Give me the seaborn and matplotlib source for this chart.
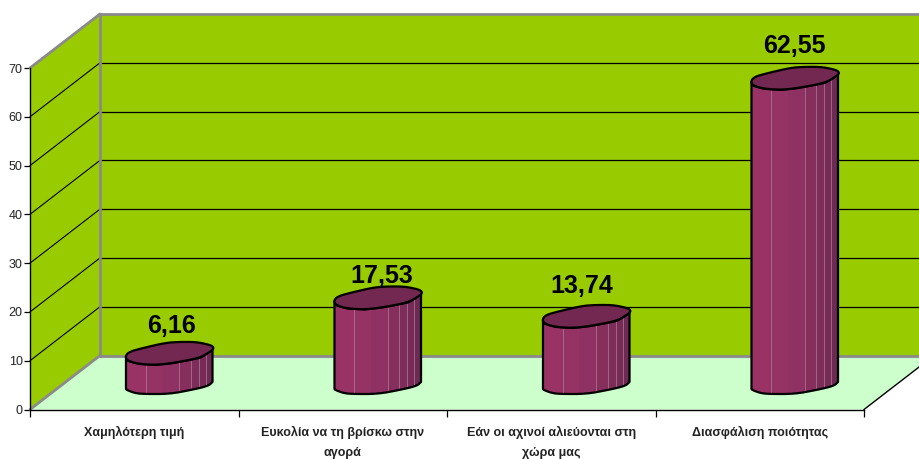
import numpy as np
import matplotlib
matplotlib.use("Agg")
import matplotlib.pyplot as plt
from matplotlib.patches import Polygon, Rectangle
from matplotlib.transforms import Affine2D, IdentityTransform
import seaborn as sns

CATEGORIES = ["Χαμηλότερη τιμή", "Ευκολία να τη βρίσκω στην\nαγορά",
              "Εάν οι αχινοί αλιεύονται στη\nχώρα μας", "Διασφάλιση ποιότητας"]
VALUES = [6.16, 17.53, 13.74, 62.55]
VALUE_LABELS = ["6,16", "17,53", "13,74", "62,55"]
Y_TICKS = [0, 10, 20, 30, 40, 50, 60, 70]

# pixel offsets of the value labels above each cylinder top
LABEL_SHIFT = [(2, 27), (4, 21), (-4, 30), (0, 32)]

WALL = "#99CC00"
FLOOR = "#CCFFCC"
EDGE = "#8A8A8A"
TOP = "#722850"
STRIP_FRACS = [0, .23, .42, .615, .75, .84, .92, 1]
STRIP_COLS = ["#993366", "#953365", "#8f3162", "#862f5d", "#7d2d59", "#752b55", "#6d2a52"]
THIN_FRACS = [.23, .615, .75, .84, .92]

# outline of a cylinder cap / base: x as fraction of half width, y in pixels
CAP_UPPER = [(-1.02, -4), (-.94, 1), (-.6, 5), (-.1, 10), (.2, 11), (.6, 11), (.85, 9), (1.0, 7)]
CAP_LOWER = [(1.03, 4), (.9, 0), (.7, -5), (.1, -10), (-.3, -12), (-.7, -11), (-.95, -8)]
BASE_LOWER = [(-1, -6), (-.98, -7), (-.8, -10), (-.6, -11), (0, -11), (.5, -7), (.9, -3), (1, 1)]


def chaikin(pts, n=2, closed=True):
    pts = np.asarray(pts, float)
    for _ in range(n):
        if closed:
            nxt = np.roll(pts, -1, axis=0)
            pts = np.column_stack([.75 * pts + .25 * nxt, .25 * pts + .75 * nxt]).reshape(-1, 2)
        else:
            a, b = pts[:-1], pts[1:]
            mid_pts = np.column_stack([.75 * a + .25 * b, .25 * a + .75 * b]).reshape(-1, 2)
            pts = np.vstack([pts[0], mid_pts, pts[-1]])
    return pts


sns.set_theme(style="white")
plt.rcParams["font.family"] = ["Liberation Sans", "DejaVu Sans"]

W, H = 919, 459
fig = plt.figure(figsize=(W / 100, H / 100), dpi=100, facecolor="white")
ax = fig.add_axes([30 / W, (H - 409.5) / H, 834 / W, 341.5 / H])
ax.patch.set_alpha(0)

sns.barplot(x=CATEGORIES, y=VALUES, color=STRIP_COLS[0], saturation=1,
            width=0.415, ax=ax, zorder=5)
ax.set_xlim(-0.5, 3.5)
ax.set_ylim(0, 70)

# 3D depth shift in pixels
DX, DY = 70, 54
back = ax.transData + Affine2D().translate(DX, DY)
mid = ax.transData + Affine2D().translate(DX / 2, DY / 2 - 0.5)


def disp(x, y, dx=0, dy=0):
    p = ax.transData.transform((x, y))
    return (p[0] + dx, p[1] + dy)


x0, x1 = -0.5, 3.5
ident = IdentityTransform()
side = Polygon([disp(x0, 0), disp(x0, 70), disp(x0, 70, DX, DY), disp(x0, 0, DX, DY)],
               closed=True, fc=WALL, ec="none", transform=ident, clip_on=False, zorder=0)
floor = Polygon([disp(x0, 0), disp(x1, 0), disp(x1, 0, DX, DY), disp(x0, 0, DX, DY)],
                closed=True, fc=FLOOR, ec="none", transform=ident, clip_on=False, zorder=0)
ax.add_patch(side)
ax.add_patch(floor)
ax.add_patch(Rectangle((x0, 0), 4, 70, fc=WALL, ec="none", transform=back, clip_on=False, zorder=0))

# grid lines
for v in Y_TICKS[1:-1]:
    ax.plot([x0, x1], [v, v], color="black", lw=0.9, transform=back, clip_on=False, zorder=1)
    a, b = disp(x0, v), disp(x0, v, DX, DY)
    ax.plot([a[0], b[0]], [a[1], b[1]], color="black", lw=0.8, transform=ident, clip_on=False, zorder=1)

# grey frame edges
ax.plot([x0, x1], [70, 70], color=EDGE, lw=2, transform=back, clip_on=False, zorder=2)
ax.plot([x0, x1], [0, 0], color=EDGE, lw=2, transform=back, clip_on=False, zorder=2)
ax.plot([x0, x0], [0, 70], color=EDGE, lw=2, transform=back, clip_on=False, zorder=2)
for v in (70, 0):
    a, b = disp(x0, v), disp(x0, v, DX, DY)
    ax.plot([a[0], b[0]], [a[1], b[1]], color=EDGE, lw=2, transform=ident, clip_on=False, zorder=2)
a, b = disp(x1, 0), disp(x1, 0, DX, DY)
ax.plot([a[0], b[0]], [a[1], b[1]], color="black", lw=1, transform=ident, clip_on=False, zorder=2)


def shape(profile, cx, cy, half):
    return [(cx + half * fx, cy + fy) for fx, fy in profile]


# cylinders
for i, (patch, v, txt, sh) in enumerate(zip(ax.patches[:4], VALUES, VALUE_LABELS, LABEL_SHIFT)):
    px, pw = patch.get_x(), patch.get_width()
    patch.set_transform(mid)
    (l, b0) = mid.transform((px, 0))
    (r, t0) = mid.transform((px + pw, v))
    cx, half = (l + r) / 2, (r - l) / 2
    cap = chaikin(shape(CAP_UPPER + CAP_LOWER, cx, t0, half), 2)
    base = chaikin(shape(BASE_LOWER, cx, b0, half), 2, closed=False)
    # body silhouette: base from left to right, then up and back across the cap
    body_pts = np.vstack([base, shape([(1, 4)] + CAP_LOWER[1:] + [(-1, -4)], cx, t0, half)])
    body = Polygon(body_pts, closed=True, fc="none", ec="black", lw=1.6,
                   transform=ident, clip_on=False, zorder=8, joinstyle="round")
    clip = Polygon(body_pts, closed=True, transform=ident)
    patch.set_clip_path(clip)
    for f0, f1, col in zip(STRIP_FRACS[:-1], STRIP_FRACS[1:], STRIP_COLS):
        s = Rectangle((px + pw * f0, -10), pw * (f1 - f0), v + 20, fc=col, ec="none",
                      transform=mid, zorder=6)
        ax.add_patch(s)
        s.set_clip_path(clip)
    for f in THIN_FRACS:
        s = Rectangle((px + pw * f, -10), 0, v + 20, fc="none", ec="#a9708f", lw=0.6,
                      transform=mid, zorder=7)
        ax.add_patch(s)
        s.set_clip_path(clip)
    ax.add_patch(body)
    ax.add_patch(Polygon(cap, closed=True, fc=TOP, ec="black", lw=1.6, transform=ident,
                         clip_on=False, zorder=9, joinstyle="round"))
    ax.annotate(txt, xy=(cx, t0), xycoords=ident, xytext=sh, textcoords="offset pixels",
                ha="center", va="center", fontsize=18, fontweight="bold", color="black",
                zorder=10, annotation_clip=False)

# axes
for k in ["top", "right"]:
    ax.spines[k].set_visible(False)
for k in ["left", "bottom"]:
    ax.spines[k].set_color("black")
    ax.spines[k].set_linewidth(1)
    ax.spines[k].set_zorder(3)
ax.set_yticks(Y_TICKS)
ax.tick_params(axis="y", length=4.3, width=0.9, color="black", labelsize=9, pad=1,
               labelcolor="#222222", left=True)
ax.set_xticks(range(4))
ax.set_xticks(np.arange(-0.5, 4, 1), minor=True)
ax.set_xticklabels(CATEGORIES, fontsize=9, fontweight="bold", color="#222222", linespacing=1.9)
ax.tick_params(axis="x", which="major", length=0, pad=12)
ax.tick_params(axis="x", which="minor", length=5, width=0.9, color="black", bottom=True)
ax.set_xlabel("")
ax.set_ylabel("")

fig.savefig("out.png", dpi=100, facecolor="white")
